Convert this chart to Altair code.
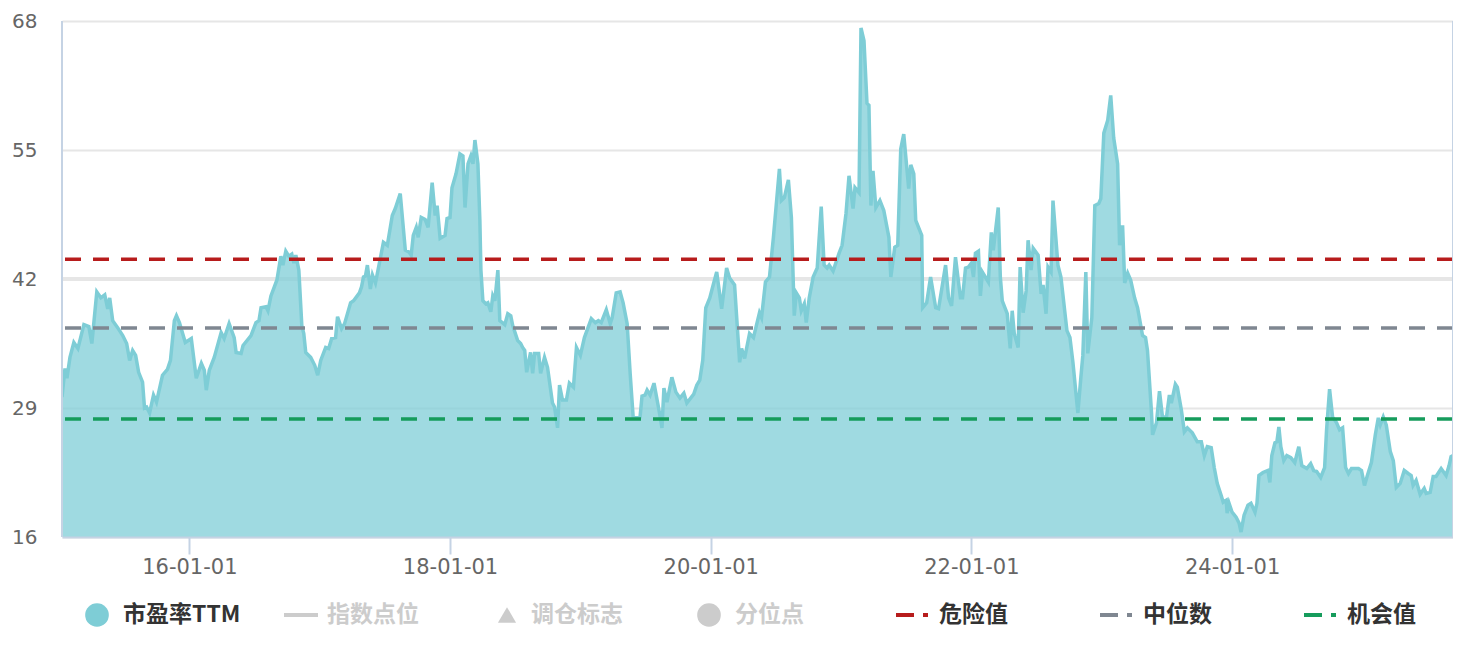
import altair as alt
import pandas as pd

# ---- data: (decimal year, PE TTM) ----
pe_2015_2016 = [
    (2015.023, 30.1), (2015.046, 33.0), (2015.061, 32.0), (2015.084, 34.1), (2015.114, 35.6),
    (2015.145, 35.0), (2015.191, 37.4), (2015.229, 37.2), (2015.252, 35.5), (2015.290, 40.7),
    (2015.321, 40.1), (2015.351, 40.4), (2015.374, 39.0), (2015.389, 40.1), (2015.412, 37.8),
    (2015.450, 37.1), (2015.489, 36.3), (2015.519, 35.5), (2015.542, 33.8), (2015.565, 34.8),
    (2015.588, 34.3), (2015.611, 32.6), (2015.641, 31.6), (2015.656, 29.0), (2015.672, 29.1),
    (2015.695, 28.5), (2015.725, 30.3), (2015.748, 29.6), (2015.794, 32.3), (2015.832, 32.9),
    (2015.855, 33.8), (2015.885, 37.8), (2015.901, 38.3), (2015.924, 37.6), (2015.969, 35.6),
    (2016.015, 36.0), (2016.053, 32.0), (2016.092, 33.5), (2016.115, 32.8), (2016.130, 30.8),
    (2016.153, 32.8), (2016.191, 34.1), (2016.244, 36.6), (2016.267, 36.0), (2016.305, 37.5),
    (2016.344, 36.1), (2016.359, 34.6), (2016.397, 34.5), (2016.412, 35.3), (2016.473, 36.3),
    (2016.511, 37.6), (2016.534, 37.8), (2016.550, 39.1), (2016.588, 39.2), (2016.603, 38.8),
    (2016.626, 40.3), (2016.672, 41.9), (2016.702, 44.3), (2016.718, 43.4), (2016.740, 44.8),
    (2016.763, 44.3), (2016.786, 44.5), (2016.802, 43.6), (2016.817, 44.4), (2016.840, 42.9),
]
pe_2017_2018 = [
    (2016.863, 37.3), (2016.878, 36.5), (2016.893, 34.6), (2016.931, 34.1), (2016.962, 33.3),
    (2016.985, 32.3), (2017.008, 33.8), (2017.046, 35.1), (2017.069, 35.0), (2017.092, 36.0),
    (2017.122, 36.1), (2017.137, 38.2), (2017.168, 37.0), (2017.191, 37.5), (2017.237, 39.6),
    (2017.260, 39.8), (2017.305, 40.6), (2017.321, 41.2), (2017.336, 42.2), (2017.351, 42.3),
    (2017.366, 43.4), (2017.389, 41.0), (2017.405, 42.4), (2017.428, 41.6), (2017.458, 43.6),
    (2017.489, 45.7), (2017.519, 45.4), (2017.557, 48.4), (2017.580, 49.1), (2017.618, 50.6),
    (2017.657, 44.9), (2017.687, 44.7), (2017.702, 44.4), (2017.718, 46.4), (2017.741, 47.2),
    (2017.756, 46.2), (2017.779, 48.2), (2017.809, 48.0), (2017.832, 47.2), (2017.863, 51.7),
    (2017.886, 48.4), (2017.901, 49.4), (2017.924, 46.1), (2017.962, 46.4), (2017.977, 48.1),
    (2018.000, 48.2), (2018.015, 51.2), (2018.046, 52.6), (2018.076, 54.6), (2018.099, 54.4),
    (2018.115, 49.2), (2018.138, 53.6), (2018.160, 54.4), (2018.176, 53.6), (2018.191, 56.0),
    (2018.214, 53.6), (2018.229, 47.9), (2018.237, 42.9), (2018.252, 39.8), (2018.275, 39.5),
    (2018.290, 39.6), (2018.313, 38.7), (2018.328, 40.3), (2018.344, 39.8), (2018.367, 42.9),
    (2018.382, 37.8), (2018.420, 37.4), (2018.443, 38.5), (2018.466, 38.3), (2018.481, 37.3),
    (2018.519, 35.8), (2018.542, 35.5), (2018.557, 35.1), (2018.573, 34.8), (2018.588, 32.6),
]
pe_2019_2020 = [
    (2018.618, 34.6), (2018.634, 32.5), (2018.649, 34.5), (2018.680, 34.5), (2018.695, 32.5),
    (2018.725, 34.1), (2018.748, 33.1), (2018.786, 29.5), (2018.802, 29.1), (2018.825, 27.0),
    (2018.840, 31.3), (2018.863, 29.8), (2018.893, 29.8), (2018.916, 31.5), (2018.947, 31.1),
    (2018.970, 35.1), (2019.000, 34.3), (2019.031, 36.1), (2019.084, 38.0), (2019.115, 37.6),
    (2019.138, 37.8), (2019.160, 37.6), (2019.199, 38.9), (2019.229, 37.5), (2019.244, 38.1),
    (2019.275, 40.6), (2019.305, 40.7), (2019.328, 39.6), (2019.359, 37.5), (2019.382, 32.5),
    (2019.405, 28.1), (2019.435, 28.0), (2019.458, 28.1), (2019.473, 30.2), (2019.496, 30.3),
    (2019.512, 30.8), (2019.535, 30.3), (2019.565, 31.5), (2019.603, 28.8), (2019.626, 27.0),
    (2019.641, 31.0), (2019.664, 29.6), (2019.702, 32.1), (2019.733, 30.6), (2019.764, 30.0),
    (2019.794, 30.5), (2019.817, 29.5), (2019.870, 30.4), (2019.893, 31.3), (2019.916, 31.8),
    (2019.939, 33.8), (2019.962, 39.1), (2019.993, 40.1), (2020.023, 41.6), (2020.046, 42.7),
    (2020.084, 39.0), (2020.122, 43.1), (2020.145, 42.1), (2020.183, 41.4), (2020.222, 33.6),
    (2020.237, 35.0), (2020.260, 34.0), (2020.298, 36.5), (2020.328, 36.1),
]
pe_2020_2022 = [
    (2020.374, 38.6), (2020.390, 38.1), (2020.420, 41.7), (2020.451, 42.2), (2020.481, 46.2),
    (2020.527, 53.1), (2020.542, 49.9), (2020.565, 50.2), (2020.596, 52.0), (2020.619, 48.2),
    (2020.641, 38.3), (2020.657, 40.6), (2020.680, 40.1), (2020.695, 38.8), (2020.718, 39.5),
    (2020.733, 37.6), (2020.756, 40.1), (2020.786, 42.2), (2020.817, 43.1), (2020.848, 49.3),
    (2020.870, 43.4), (2020.893, 43.1), (2020.909, 43.4), (2020.939, 42.8), (2020.985, 44.6),
    (2021.008, 45.4), (2021.038, 48.6), (2021.061, 52.4), (2021.092, 49.1), (2021.107, 51.2),
    (2021.138, 50.7), (2021.153, 67.3), (2021.176, 66.0), (2021.199, 59.7), (2021.214, 59.5),
    (2021.229, 49.4), (2021.245, 52.9), (2021.267, 49.2), (2021.298, 49.9), (2021.328, 48.9),
    (2021.367, 46.2), (2021.382, 42.2), (2021.412, 45.2), (2021.435, 45.4), (2021.458, 55.1),
    (2021.481, 56.6), (2021.519, 51.1), (2021.535, 53.5), (2021.558, 52.6), (2021.573, 47.9),
    (2021.619, 46.4), (2021.626, 39.1), (2021.657, 39.6), (2021.687, 42.2), (2021.726, 39.1),
    (2021.748, 39.0), (2021.802, 43.4), (2021.825, 40.1), (2021.848, 39.3), (2021.878, 44.2),
    (2021.916, 40.1), (2021.932, 40.1), (2021.955, 43.1), (2021.977, 43.2), (2022.000, 43.6),
    (2022.016, 42.2), (2022.031, 44.6), (2022.054, 44.8), (2022.069, 40.3), (2022.084, 42.7),
]
pe_2022_2023 = [
    (2022.130, 41.7), (2022.153, 46.7), (2022.168, 44.9), (2022.206, 49.2), (2022.222, 42.2),
    (2022.237, 39.8), (2022.275, 38.5), (2022.298, 35.0), (2022.313, 38.8), (2022.329, 36.5),
    (2022.359, 35.1), (2022.374, 43.2), (2022.397, 38.6), (2022.420, 40.8), (2022.435, 45.9),
    (2022.458, 42.9), (2022.474, 45.1), (2022.512, 44.4), (2022.535, 40.5), (2022.550, 41.4),
    (2022.573, 38.5), (2022.588, 43.2), (2022.611, 42.7), (2022.626, 49.9), (2022.664, 43.4),
    (2022.687, 42.2), (2022.733, 36.8), (2022.756, 36.1), (2022.779, 33.6), (2022.817, 28.5),
    (2022.840, 32.1), (2022.855, 34.3), (2022.878, 42.7), (2022.893, 34.5), (2022.924, 38.1),
    (2022.947, 49.4), (2022.977, 49.6), (2022.993, 50.1), (2023.016, 56.7), (2023.046, 58.0),
    (2023.069, 60.5), (2023.092, 56.2), (2023.122, 53.6), (2023.137, 45.4), (2023.160, 47.4),
    (2023.176, 41.6), (2023.199, 42.6), (2023.222, 41.9), (2023.252, 40.1), (2023.275, 39.1),
    (2023.313, 36.3), (2023.336, 36.1), (2023.351, 34.8), (2023.382, 28.5), (2023.390, 26.3),
    (2023.420, 27.5), (2023.443, 30.7), (2023.466, 28.1), (2023.497, 28.1), (2023.519, 30.3),
    (2023.534, 29.5), (2023.565, 31.4), (2023.580, 31.1), (2023.611, 28.8), (2023.634, 26.6),
    (2023.657, 27.0), (2023.695, 26.5),
]
pe_2024_2025 = [
    (2023.733, 25.6), (2023.764, 25.6), (2023.787, 24.2), (2023.810, 25.1), (2023.840, 25.0),
    (2023.863, 23.0), (2023.886, 21.4), (2023.916, 20.2), (2023.932, 19.5), (2023.955, 19.7),
    (2023.962, 18.4), (2023.977, 19.4), (2024.000, 18.5), (2024.031, 18.0), (2024.054, 17.4),
    (2024.069, 16.5), (2024.092, 18.2), (2024.122, 19.2), (2024.145, 19.4), (2024.176, 18.5),
    (2024.191, 19.4), (2024.206, 22.2), (2024.237, 22.5), (2024.275, 22.7), (2024.290, 21.5),
    (2024.305, 24.2), (2024.329, 25.5), (2024.344, 25.6), (2024.359, 27.1), (2024.374, 25.1),
    (2024.397, 23.7), (2024.420, 24.2), (2024.451, 24.0), (2024.481, 23.5), (2024.512, 25.1),
    (2024.535, 23.2), (2024.573, 22.9), (2024.603, 23.4), (2024.626, 22.7), (2024.649, 22.6),
    (2024.680, 22.0), (2024.710, 23.0), (2024.725, 26.8), (2024.748, 30.9), (2024.771, 28.1),
    (2024.802, 27.5), (2024.825, 26.8), (2024.848, 27.0), (2024.871, 23.0), (2024.893, 22.4),
    (2024.916, 22.9), (2024.970, 22.9), (2024.993, 22.7), (2025.016, 21.2), (2025.038, 22.2),
    (2025.069, 23.5), (2025.099, 26.3), (2025.122, 28.0), (2025.137, 27.3), (2025.160, 28.1),
    (2025.183, 27.3), (2025.214, 24.6), (2025.237, 23.7), (2025.260, 21.0), (2025.290, 21.4),
    (2025.321, 22.7), (2025.351, 22.4), (2025.374, 22.2), (2025.389, 21.2), (2025.412, 21.7),
    (2025.443, 20.3), (2025.474, 20.9), (2025.489, 20.4), (2025.520, 20.5), (2025.543, 22.1),
    (2025.565, 22.1), (2025.604, 22.9), (2025.642, 22.2), (2025.665, 23.2), (2025.680, 24.1),
    (2025.695, 24.2),
]

ref_names = ["危险值", "中位数", "机会值"]
ref_values = [44.0, 37.05, 27.9]
ref_colors = ["#b71c1c", "#7f8791", "#169c5c"]

y_ticks = [16, 29, 42, 55, 68]
x_ticks = [2016, 2018, 2020, 2022, 2024]

legend_labels = ["市盈率TTM", "指数点位", "调仓标志", "分位点", "危险值", "中位数", "机会值"]
legend_active = [True, False, False, False, True, True, True]

# ---- build ----
points = pe_2015_2016 + pe_2017_2018 + pe_2019_2020 + pe_2020_2022 + pe_2022_2023 + pe_2024_2025
df = pd.DataFrame(points, columns=["year", "pe"])

W, H = 1391, 516
AXIS_BLUE = "#c5d3e4"
TEAL = "#7ecdd6"
NUM_FONT = "DejaVu Sans"
CJK_FONT = "Noto Sans CJK SC"

x_scale = alt.Scale(domain=[float(df.year.min()), float(df.year.max())], nice=False, zero=False)
y_scale = alt.Scale(domain=[16, 68], nice=False, zero=False)

x_axis = alt.Axis(
    values=x_ticks,
    labelExpr="substring(toString(datum.value), 2, 4) + '-01-01'",
    grid=False, domainColor=AXIS_BLUE, domainWidth=2,
    tickColor=AXIS_BLUE, tickWidth=2, tickSize=17,
    labelPadding=2, labelFontSize=21, labelColor="#666666", labelFont=NUM_FONT,
    labelFlush=False, zindex=1,
)
y_axis = alt.Axis(
    values=y_ticks, ticks=False, tickSize=0, domain=False,
    grid=True, gridColor="#e6e6e6", gridWidth=2,
    labelPadding=25, labelFontSize=20, labelColor="#666666", labelFont=NUM_FONT,
)

grid42 = alt.Chart(pd.DataFrame({"v": [42]})).mark_rule(color="#e6e6e6", strokeWidth=4).encode(
    y=alt.Y("v:Q", scale=y_scale, title=None)
)

area = alt.Chart(df).mark_area(color=TEAL, opacity=0.74, clip=True).encode(
    x=alt.X("year:Q", scale=x_scale, axis=x_axis, title=None),
    y=alt.Y("pe:Q", scale=y_scale, axis=y_axis, title=None),
)
line = alt.Chart(df).mark_line(color=TEAL, strokeWidth=3.5, clip=True).encode(
    x=alt.X("year:Q", title=None),
    y=alt.Y("pe:Q", title=None),
)

ref_df = pd.DataFrame({"name": ref_names, "value": ref_values, "color": ref_colors})
refs = alt.Chart(ref_df).mark_rule(strokeWidth=3.5, strokeDash=[16, 12]).encode(
    y=alt.Y("value:Q", title=None),
    color=alt.Color("color:N", scale=None),
)

edge_df = pd.DataFrame({"e": [0]})
left_edge = alt.Chart(edge_df).mark_rule(color=AXIS_BLUE, strokeWidth=2).encode(
    x=alt.value(0), y=alt.value(0), y2=alt.value(H)
)
right_edge = alt.Chart(edge_df).mark_rule(color=AXIS_BLUE, strokeWidth=2).encode(
    x=alt.value(W), y=alt.value(0), y2=alt.value(H)
)

# ---- legend (drawn below the plot) ----
LEG_Y = 594
leg = pd.DataFrame({"label": legend_labels, "active": legend_active})
leg["slot"] = range(len(leg))
leg["tx"] = 61 + 204 * leg["slot"]
leg["tcolor"] = ["#333333" if a else "#cccccc" for a in leg["active"]]

leg_text = alt.Chart(leg).mark_text(
    align="left", baseline="middle", fontSize=23, fontWeight="bold", font=CJK_FONT
).encode(
    x=alt.X("tx:Q", scale=None, axis=None),
    y=alt.value(LEG_Y),
    text="label:N",
    color=alt.Color("tcolor:N", scale=None),
)

circ = leg[leg["slot"].isin([0, 3])].copy()
circ["cx"] = circ["tx"] - 26
circ["ccolor"] = [TEAL, "#cccccc"]
leg_circ = alt.Chart(circ).mark_point(shape="circle", filled=True, size=560, opacity=1).encode(
    x=alt.X("cx:Q", scale=None, axis=None), y=alt.value(LEG_Y),
    color=alt.Color("ccolor:N", scale=None),
)

tri = leg[leg["slot"] == 2].copy()
tri["cx"] = tri["tx"] - 24
leg_tri = alt.Chart(tri).mark_point(shape="triangle-up", filled=True, size=330, opacity=1, color="#cccccc").encode(
    x=alt.X("cx:Q", scale=None, axis=None), y=alt.value(LEG_Y),
)

ln = leg[leg["slot"] == 1].copy()
ln["x1"] = ln["tx"] - 43
ln["x2"] = ln["tx"] - 9
leg_line = alt.Chart(ln).mark_rule(strokeWidth=4, color="#cccccc").encode(
    x=alt.X("x1:Q", scale=None, axis=None), x2="x2:Q", y=alt.value(LEG_Y),
)

dd = leg[leg["slot"] >= 4].copy()
dd["color"] = ref_colors
dd["d1"] = dd["tx"] - 43
dd["d2"] = dd["tx"] - 25
dd["p1"] = dd["tx"] - 16
dd["p2"] = dd["tx"] - 11
leg_dash = alt.Chart(dd).mark_rule(strokeWidth=4).encode(
    x=alt.X("d1:Q", scale=None, axis=None), x2="d2:Q", y=alt.value(LEG_Y),
    color=alt.Color("color:N", scale=None),
)
leg_dot = alt.Chart(dd).mark_rule(strokeWidth=4).encode(
    x=alt.X("p1:Q", scale=None, axis=None), x2="p2:Q", y=alt.value(LEG_Y),
    color=alt.Color("color:N", scale=None),
)

chart = alt.layer(
    grid42, area, line, refs, left_edge, right_edge,
    leg_text, leg_circ, leg_tri, leg_line, leg_dash, leg_dot,
).properties(
    width=W, height=H,
    padding={"left": 54, "top": 13, "right": 0, "bottom": 97},
    autosize=alt.AutoSizeParams(type="none"),
).configure_view(strokeWidth=0)

chart.save("out.html", embed_options={"renderer": "svg", "actions": False})
